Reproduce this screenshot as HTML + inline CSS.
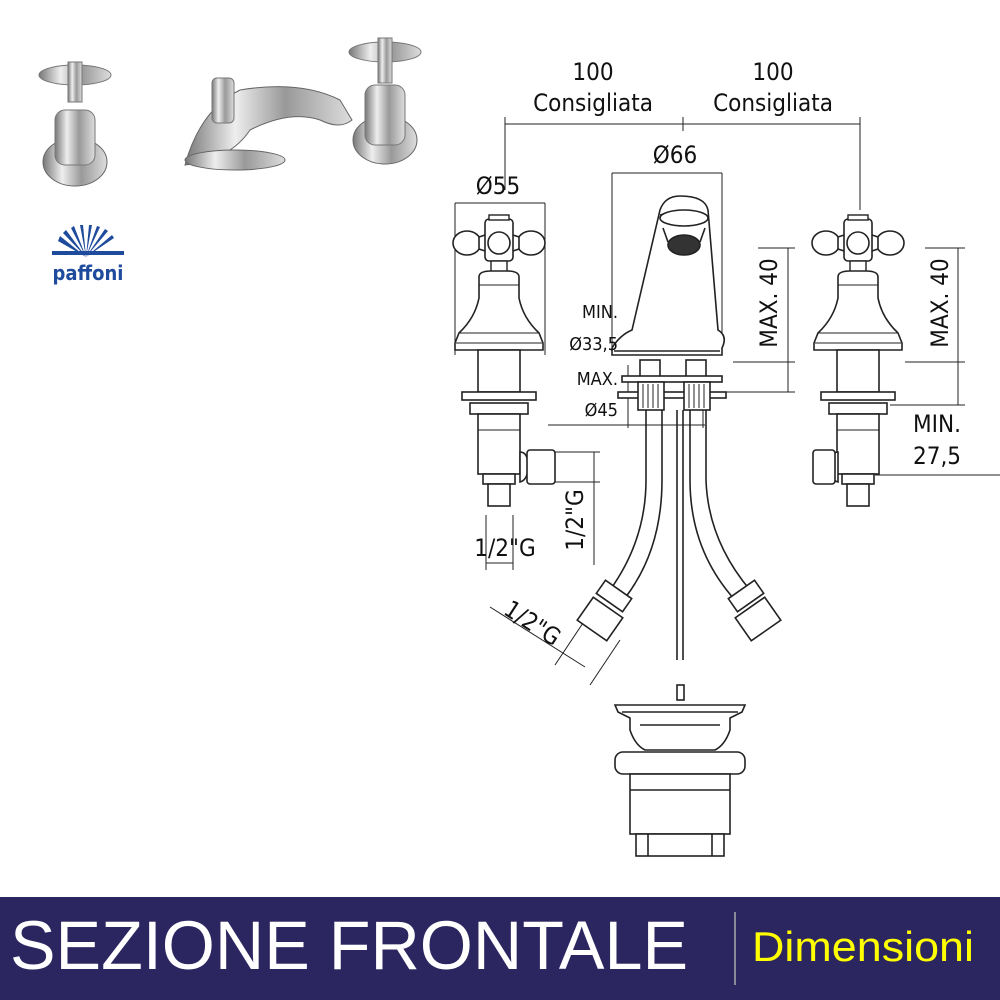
<!DOCTYPE html>
<html><head><meta charset="utf-8"><style>
html,body{margin:0;padding:0;background:#fff;width:1000px;height:1000px;overflow:hidden}
svg{display:block}
text{font-family:"DejaVu Sans Condensed","DejaVu Sans","Liberation Sans",sans-serif;fill:#111}
</style></head><body>
<svg width="1000" height="1000" viewBox="0 0 1000 1000" xmlns="http://www.w3.org/2000/svg">
<defs>
<linearGradient id="chrome" x1="0" x2="1"><stop offset="0" stop-color="#777"/><stop offset=".3" stop-color="#eee"/><stop offset=".6" stop-color="#999"/><stop offset="1" stop-color="#ddd"/></linearGradient>
<g id="tap">
 <ellipse cx="-32" cy="0" rx="14" ry="12" fill="#fff" stroke="#222" stroke-width="1.6"/>
 <ellipse cx="32" cy="0" rx="14" ry="12" fill="#fff" stroke="#222" stroke-width="1.6"/>
 <path d="M-20,-6 L-14,-8 L14,-8 L20,-6 L20,6 L14,8 L-14,8 L-20,6Z" fill="#fff" stroke="#222" stroke-width="1.6"/>
 <rect x="-14" y="-24" width="28" height="42" rx="4" fill="#fff" stroke="#222" stroke-width="1.6"/>
 <rect x="-10" y="-28" width="20" height="5" fill="#fff" stroke="#222" stroke-width="1.4"/>
 <circle cx="0" cy="0" r="11" fill="#fff" stroke="#222" stroke-width="1.6"/>
 <rect x="-8" y="18" width="16" height="14" fill="#fff" stroke="#222" stroke-width="1.4"/>
 <path d="M-20,34 Q-20,28 -8,28 L8,28 Q20,28 20,34 L20,55 Q24,75 40,90 L44,100 L44,107 L-44,107 L-44,100 L-40,90 Q-24,75 -20,55Z" fill="#fff" stroke="#222" stroke-width="1.6"/>
 <line x1="-20" y1="42" x2="20" y2="42" stroke="#222"/>
 <line x1="-40" y1="90" x2="40" y2="90" stroke="#222"/>
 <line x1="-43" y1="100" x2="43" y2="100" stroke="#222"/>
 <rect x="-21" y="107" width="42" height="42" fill="#fff" stroke="#222" stroke-width="1.6"/>
 <rect x="-37" y="149" width="74" height="8" fill="#fff" stroke="#222" stroke-width="1.6"/>
 <rect x="-29" y="160" width="58" height="11" fill="#fff" stroke="#222" stroke-width="1.6"/>
 <rect x="-21" y="171" width="42" height="60" fill="#fff" stroke="#222" stroke-width="1.6"/>
 <line x1="-21" y1="187" x2="21" y2="187" stroke="#222"/>
 <rect x="-16" y="231" width="32" height="10" fill="#fff" stroke="#222" stroke-width="1.6"/>
 <rect x="-11" y="241" width="22" height="22" fill="#fff" stroke="#222" stroke-width="1.6"/>
</g>
</defs>

<g>
 <ellipse cx="75" cy="162" rx="32" ry="24" fill="url(#chrome)" stroke="#666"/>
 <rect x="55" y="110" width="40" height="55" rx="10" fill="url(#chrome)" stroke="#777"/>
 <ellipse cx="75" cy="75" rx="36" ry="10" fill="url(#chrome)" stroke="#777"/>
 <rect x="68" y="62" width="14" height="40" fill="url(#chrome)" stroke="#777"/>
 <path d="M185,165 Q200,110 240,90 Q300,80 340,100 L352,120 Q340,130 320,120 Q290,110 250,130 Q230,160 185,165Z" fill="url(#chrome)" stroke="#666"/>
 <ellipse cx="235" cy="160" rx="50" ry="10" fill="url(#chrome)" stroke="#666"/>
 <rect x="212" y="78" width="22" height="45" rx="5" fill="url(#chrome)" stroke="#777"/>
 <ellipse cx="385" cy="140" rx="32" ry="24" fill="url(#chrome)" stroke="#666"/>
 <rect x="365" y="85" width="40" height="60" rx="10" fill="url(#chrome)" stroke="#777"/>
 <ellipse cx="385" cy="52" rx="36" ry="10" fill="url(#chrome)" stroke="#777"/>
 <rect x="378" y="38" width="14" height="45" fill="url(#chrome)" stroke="#777"/>
</g>
<g fill="#1f4b9c">
 <path d="M86,257 L60,236 L58,241Z"/><path d="M86,257 L66,230 L63,233Z"/><path d="M86,257 L74,226 L71,228Z"/>
 <path d="M86,257 L83,225 L80,225Z"/><path d="M86,257 L92,225 L89,225Z"/><path d="M86,257 L100,227 L97,226Z"/>
 <path d="M86,257 L108,231 L105,229Z"/><path d="M86,257 L114,238 L112,235Z"/>
 <rect x="52" y="251" width="72" height="4"/>
</g>
<text x="88" y="280" text-anchor="middle" font-size="20" font-weight="bold" style="fill:#1f4b9c">paffoni</text>

<g stroke="#222" fill="none" stroke-width="1">
 <line x1="505" y1="124" x2="860" y2="124"/>
 <line x1="683" y1="117" x2="683" y2="131"/>
 <line x1="505" y1="117" x2="505" y2="190"/>
 <line x1="860" y1="117" x2="860" y2="210"/>
 <line x1="455" y1="203" x2="545" y2="203"/>
 <line x1="455" y1="203" x2="455" y2="355"/>
 <line x1="545" y1="203" x2="545" y2="355"/>
 <line x1="612" y1="173" x2="722" y2="173"/>
 <line x1="612" y1="173" x2="612" y2="352"/>
 <line x1="722" y1="173" x2="722" y2="352"/>
 <line x1="733" y1="362" x2="795" y2="362"/>
 <line x1="758" y1="248" x2="795" y2="248"/>
 <line x1="788" y1="248" x2="788" y2="362"/>
 <line x1="788" y1="362" x2="788" y2="392"/>
 <line x1="710" y1="392" x2="795" y2="392"/>
 <line x1="905" y1="362" x2="965" y2="362"/>
 <line x1="925" y1="248" x2="965" y2="248"/>
 <line x1="958" y1="248" x2="958" y2="405"/>
 <line x1="890" y1="405" x2="965" y2="405"/>
 <line x1="875" y1="475" x2="1000" y2="475"/>
 <line x1="548" y1="425" x2="705" y2="425"/>
 <line x1="628" y1="365" x2="628" y2="428"/>
 <line x1="703" y1="365" x2="703" y2="428"/>
 <line x1="555" y1="452" x2="600" y2="452"/>
 <line x1="555" y1="482" x2="600" y2="482"/>
 <line x1="594" y1="452" x2="594" y2="565"/>
 <line x1="486" y1="515" x2="486" y2="570"/>
 <line x1="513" y1="515" x2="513" y2="570"/>
 <line x1="486" y1="563" x2="513" y2="563"/>
 <line x1="585" y1="620" x2="555" y2="665"/>
 <line x1="620" y1="640" x2="590" y2="685"/>
 <line x1="490" y1="607" x2="585" y2="667"/>
</g>

<use href="#tap" x="499" y="243"/>
<use href="#tap" x="858" y="243"/>
<g stroke="#222" fill="#fff" stroke-width="1.6">
 <path d="M520,452 Q528,452 528,466 Q528,480 520,482Z"/>
 <rect x="527" y="450" width="28" height="34" rx="3"/>
 <path d="M838,452 Q830,452 830,466 Q830,480 838,482Z"/>
 <rect x="813" y="450" width="22" height="34" rx="3"/>
</g>

<g stroke="#222" fill="#fff" stroke-width="1.6">
 <path d="M612,355 L612,348 Q620,335 632,330 L660,210 Q665,196 680,196 Q705,196 708,210 L718,330 Q728,336 722,348 L722,355Z"/>
 <path d="M660,215 Q682,208 700,215" fill="none"/>
 <ellipse cx="684" cy="218" rx="24" ry="8"/>
 <ellipse cx="684" cy="245" rx="16" ry="10" fill="#333"/>
 <path d="M663,228 L668,242 M705,228 L700,242" fill="none"/>
 <line x1="614" y1="351" x2="720" y2="351"/>
 <rect x="640" y="360" width="20" height="25"/>
 <rect x="686" y="360" width="20" height="25"/>
 <rect x="622" y="376" width="100" height="6"/>
 <rect x="618" y="392" width="108" height="6"/>
 <rect x="638" y="382" width="26" height="28"/>
 <rect x="684" y="382" width="26" height="28"/>
 <path d="M643,384v24M648,384v24M653,384v24M658,384v24M689,384v24M694,384v24M699,384v24M704,384v24" fill="none" stroke-width="1"/>
</g>
<g stroke="#222" fill="none" stroke-width="1.6">
 <path d="M646,410 L646,480 Q646,540 610,590"/>
 <path d="M662,410 L662,480 Q662,550 625,598"/>
 <path d="M690,410 L690,480 Q690,550 735,600"/>
 <path d="M706,410 L706,480 Q708,540 750,590"/>
 <line x1="677" y1="410" x2="677" y2="660"/>
 <line x1="683" y1="410" x2="683" y2="660"/>
</g>
<g stroke="#222" fill="#fff" stroke-width="1.6">
 <rect x="598" y="588" width="32" height="16" transform="rotate(35 614 596)"/>
 <rect x="582" y="605" width="36" height="28" transform="rotate(35 600 619)"/>
 <rect x="730" y="588" width="32" height="16" transform="rotate(-35 746 596)"/>
 <rect x="740" y="605" width="36" height="28" transform="rotate(-35 758 619)"/>
</g>
<g stroke="#222" fill="#fff" stroke-width="1.6">
 <rect x="677" y="685" width="7" height="15"/>
 <path d="M615,705 L745,705 L742,712 L730,718 L730,730 Q725,745 715,750 L645,750 Q635,745 630,730 L630,718 L618,712Z"/>
 <line x1="622" y1="712" x2="738" y2="712"/>
 <line x1="640" y1="725" x2="720" y2="725"/>
 <rect x="615" y="752" width="130" height="22" rx="8"/>
 <rect x="630" y="774" width="100" height="60"/>
 <line x1="630" y1="790" x2="730" y2="790"/>
 <rect x="636" y="834" width="88" height="22"/>
 <line x1="648" y1="834" x2="648" y2="856"/>
 <line x1="712" y1="834" x2="712" y2="856"/>
</g>

<g font-size="24">
 <text x="593" y="80" text-anchor="middle">100</text>
 <text x="593" y="111" text-anchor="middle">Consigliata</text>
 <text x="773" y="80" text-anchor="middle">100</text>
 <text x="773" y="111" text-anchor="middle">Consigliata</text>
 <text x="498" y="194" text-anchor="middle">Ø55</text>
 <text x="675" y="163" text-anchor="middle">Ø66</text>
 <text x="937" y="432" text-anchor="middle">MIN.</text>
 <text x="937" y="464" text-anchor="middle">27,5</text>
 <text x="505" y="556" text-anchor="middle">1/2"G</text>
 <text transform="translate(583,520) rotate(-90)" text-anchor="middle">1/2"G</text>
 <text transform="translate(528,630) rotate(33)" text-anchor="middle">1/2"G</text>
 <text transform="translate(777,303) rotate(-90)" text-anchor="middle">MAX. 40</text>
 <text transform="translate(948,303) rotate(-90)" text-anchor="middle">MAX. 40</text>
</g>
<g font-size="18">
 <text x="618" y="318" text-anchor="end">MIN.</text>
 <text x="618" y="350" text-anchor="end">Ø33,5</text>
 <text x="618" y="385" text-anchor="end">MAX.</text>
 <text x="618" y="416" text-anchor="end">Ø45</text>
</g>

<rect x="0" y="897" width="1000" height="103" fill="#2c2660"/>
<line x1="735" y1="912" x2="735" y2="985" stroke="#aaa" stroke-width="1.5"/>
<text x="10" y="969" font-size="69" style="fill:#fff;font-family:'Liberation Sans',sans-serif" textLength="678" lengthAdjust="spacingAndGlyphs">SEZIONE FRONTALE</text>
<text x="752" y="961" font-size="42" style="fill:#ffff00;font-family:'Liberation Sans',sans-serif" textLength="222" lengthAdjust="spacingAndGlyphs">Dimensioni</text>
</svg>
</body></html>
